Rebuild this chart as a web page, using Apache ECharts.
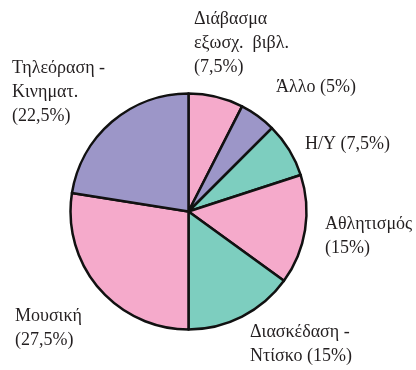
<!DOCTYPE html>
<html>
<head>
<meta charset="utf-8">
<script src="https://cdn.jsdelivr.net/npm/echarts@6/dist/echarts.min.js"></script>
<style>
  html, body { margin: 0; padding: 0; background: #ffffff; }
  #chart { width: 416px; height: 370px; }
</style>
</head>
<body>
<div id="chart"></div>
<script>
// Free-time activities, share of time (%), clockwise from 12 o'clock
const categories = [
  'Διάβασμα\nεξωσχ.  βιβλ.',
  'Άλλο',
  'H/Y',
  'Αθλητισμός',
  'Διασκέδαση -\nΝτίσκο',
  'Μουσική',
  'Τηλεόραση -\nΚινηματ.'
];
const values = [7.5, 5, 7.5, 15, 15, 27.5, 22.5];

// Slice fills
const sliceColors = ['#f5aacb', '#9c96c8', '#7dcebf', '#f5aacb', '#7dcebf', '#f5aacb', '#9c96c8'];
// Whether the percentage sits on the same line as the name
const percentInline = [false, true, true, false, true, false, false];
// Top-left corner of each label block
const labelPos = [
  [194, 7], [276, 75], [305, 132], [325, 212], [250, 320], [15, 304], [12, 56]
];

const chart = echarts.init(document.getElementById('chart'), null, { renderer: 'canvas' });

chart.setOption({
  backgroundColor: '#ffffff',
  animation: false,
  series: [{
    type: 'pie',
    center: [188.5, 211.5],
    radius: 118,
    startAngle: 90,
    clockwise: true,
    avoidLabelOverlap: false,
    data: categories.map((name, i) => ({
      name: name,
      value: values[i],
      itemStyle: { color: sliceColors[i] }
    })),
    itemStyle: { borderColor: '#111111', borderWidth: 2.5 },
    emphasis: { disabled: true },
    label: {
      show: true,
      position: 'outside',
      fontFamily: '"Liberation Serif", "Times New Roman", serif',
      fontSize: 18,
      lineHeight: 24,
      color: '#231f20',
      formatter: function (p) {
        const pct = '(' + String(p.value).replace('.', ',') + '%)';
        return p.name + (percentInline[p.dataIndex] ? ' ' : '\n') + pct;
      }
    },
    labelLine: { show: false },
    labelLayout: function (p) {
      const pos = labelPos[p.dataIndex];
      return { x: pos[0], y: pos[1], align: 'left', verticalAlign: 'top', hideOverlap: false };
    }
  }]
});
</script>
</body>
</html>
